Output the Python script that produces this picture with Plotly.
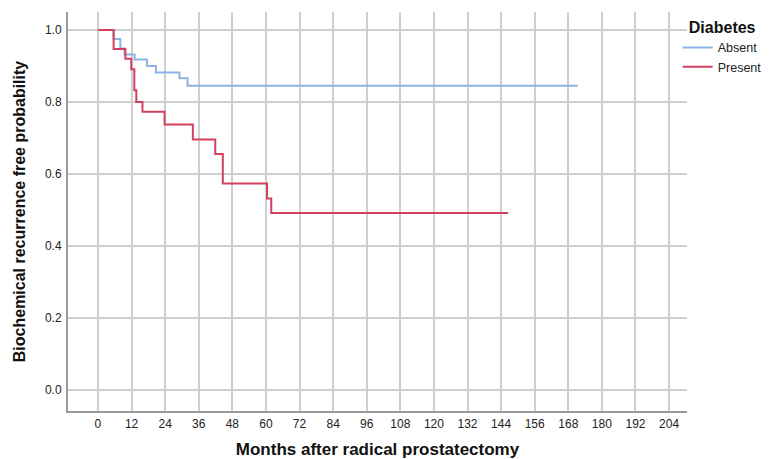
import plotly.graph_objects as go

# Kaplan-Meier step data
absent_months = [0, 5.6, 8.0, 9.5, 13.1, 17.5, 20.7, 29.1, 32.0, 171.4]
absent_surv = [1.0, 0.975, 0.949, 0.932, 0.918, 0.900, 0.882, 0.866, 0.845, 0.845]

present_months = [0, 5.6, 9.8, 11.9, 13.0, 13.7, 15.9, 23.8, 33.9, 41.9, 44.6, 60.4, 61.9, 146.5]
present_surv = [1.0, 0.947, 0.920, 0.891, 0.833, 0.800, 0.773, 0.738, 0.696, 0.656, 0.574, 0.532, 0.492, 0.492]

x_ticks = list(range(0, 205, 12))
y_ticks = [0.0, 0.2, 0.4, 0.6, 0.8, 1.0]

legend_title = "Diabetes"
x_title = "Months after radical prostatectomy"
y_title = "Biochemical recurrence free probability"

fig = go.Figure()
fig.add_trace(go.Scatter(x=absent_months, y=absent_surv, mode="lines", name="Absent",
                         line=dict(shape="hv", color="#8DB3E2", width=2)))
fig.add_trace(go.Scatter(x=present_months, y=present_surv, mode="lines", name="Present",
                         line=dict(shape="hv", color="#D2405F", width=2)))

font_family = "Liberation Sans, Arial, sans-serif"
# The page body adds an 8px margin, so the figure is 8px smaller and margins shifted
fig.update_layout(
    width=764, height=451,
    margin=dict(l=60, r=85, t=4, b=48, autoexpand=False),
    paper_bgcolor="white", plot_bgcolor="white",
    font=dict(family=font_family, size=12, color="#222222"),
    legend=dict(
        title=dict(text="<b>" + legend_title + "</b>", font=dict(size=16, color="#111111"),
                   side="top center"),
        x=0.985, y=1.0, xanchor="left", yanchor="top",
        font=dict(size=12.5, color="#222222"),
        tracegroupgap=0, itemwidth=30,
        bgcolor="rgba(0,0,0,0)",
    ),
    showlegend=True,
)
fig.update_xaxes(
    range=[-10.7, 210.4], tickvals=x_ticks, ticktext=[str(t) for t in x_ticks],
    showgrid=True, gridcolor="#CFCFCF", gridwidth=1.5,
    showline=True, linecolor="#9A9A9A", linewidth=2,
    ticks="outside", ticklen=1, tickcolor="rgba(0,0,0,0)",
    zeroline=False, automargin=False,
    title=dict(text="<b>" + x_title + "</b>", font=dict(size=17, color="#111111"), standoff=16),
)
fig.update_yaxes(
    range=[-0.0575, 1.05], tickvals=y_ticks, ticktext=[f"{v:.1f}" for v in y_ticks],
    showgrid=True, gridcolor="#CFCFCF", gridwidth=1.5,
    showline=True, linecolor="#9A9A9A", linewidth=2,
    ticks="outside", ticklen=2, tickcolor="rgba(0,0,0,0)",
    zeroline=False, automargin=False,
    title=dict(text="<b>" + y_title + "</b>", font=dict(size=16, color="#111111"), standoff=15),
)

fig.write_html("out.html")
